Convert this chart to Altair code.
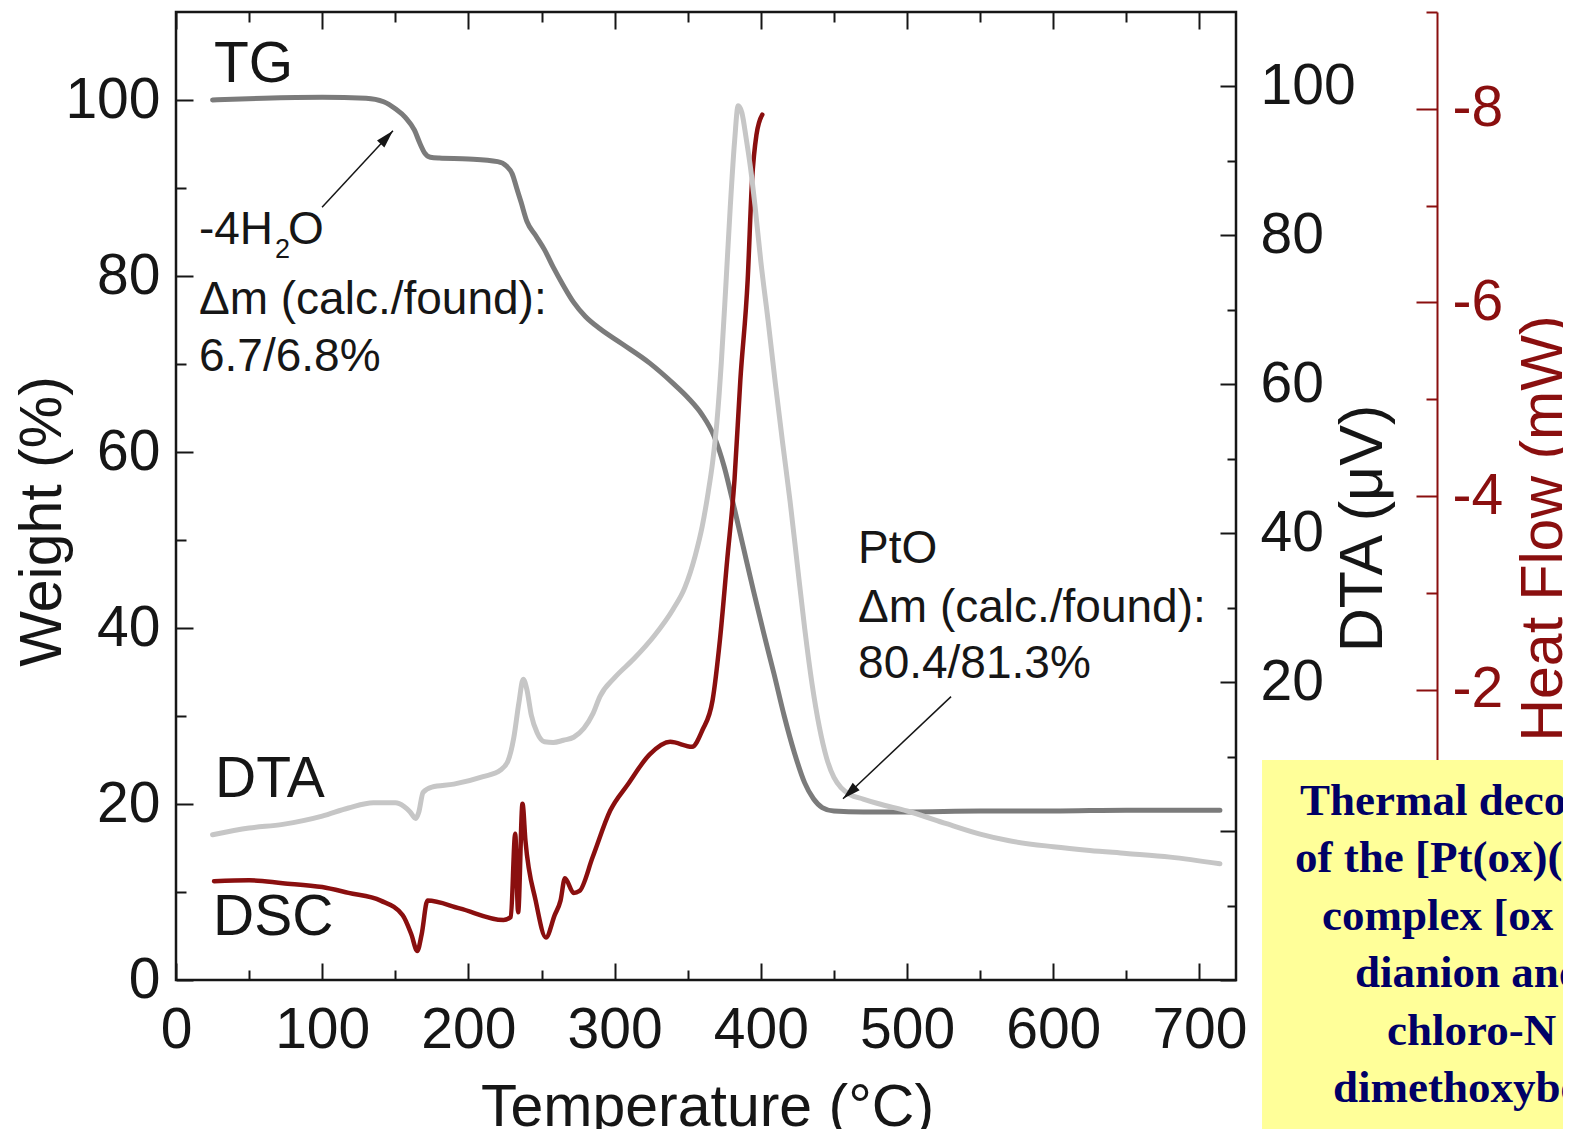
import altair as alt
import pandas as pd

# ---------------- data ----------------
# TG curve: temperature (°C) and weight (%)
tg_T = [25, 60, 100, 130, 142, 150, 157, 163, 167, 170, 174, 180, 200, 220, 226, 230, 233, 236, 240,
        246, 252, 258, 265, 272, 280, 290, 305, 324, 340, 350, 360, 368, 375, 382, 388, 395, 402,
        409, 416, 423, 430, 436, 442, 450, 470, 500, 550, 600, 650, 714]
tg_W = [100.0, 100.2, 100.3, 100.2, 99.8, 99.0, 98.0, 96.6, 95.0, 94.0, 93.5, 93.4, 93.3, 93.0, 92.5,
        91.6, 90.0, 88.4, 86.2, 84.6, 83.0, 81.0, 78.9, 77.0, 75.4, 74.0, 72.3, 70.1, 67.8, 66.2, 64.2,
        61.8, 58.3, 53.5, 49.2, 44.2, 39.4, 34.8, 30.0, 25.8, 22.4, 20.6, 19.6, 19.2, 19.1, 19.1, 19.2,
        19.2, 19.3, 19.3]

# DTA curve: temperature (°C) and signal (µV)
dta_T = [25, 50, 73, 100, 118, 135, 150, 156, 160, 164, 166, 169, 175, 190, 210, 222, 227, 231, 234.5,
         237.5, 240, 243, 247, 252, 258, 265, 272, 279, 285, 290, 300, 313, 327, 340, 348, 355, 360,
         364, 367, 370, 373, 376, 379, 382, 384.5, 387, 390, 393, 396, 400, 405, 410, 415, 420, 425,
         430, 435, 440, 445, 450, 455, 461, 470, 480, 500, 527, 550, 570, 600, 625, 650, 680, 714]
dta_D = [-0.5, 0.4, 0.9, 2.0, 3.1, 3.8, 3.8, 3.3, 2.6, 1.7, 2.5, 5.2, 5.9, 6.3, 7.3, 8.2, 9.4, 12.5,
         17.2, 20.4, 19.0, 15.6, 13.2, 12.0, 11.9, 12.2, 12.6, 13.8, 15.7, 18.1, 20.6, 23.1, 26.2, 29.8,
         32.7, 36.9, 41.0, 45.5, 49.5, 55.0, 63.0, 73.0, 83.5, 92.5, 97.4, 96.5, 93.0, 89.0, 84.0, 76.5,
         68.5, 60.0, 52.0, 44.3, 35.7, 27.2, 19.8, 14.0, 9.8, 7.2, 5.8, 4.9, 4.3, 3.7, 2.7, 1.0, -0.4,
         -1.3, -2.1, -2.6, -3.0, -3.5, -4.4]

# DSC curve: temperature (°C) and heat flow (mW)
dsc_T = [26, 50, 73, 100, 118, 140, 155, 161, 165, 168, 172, 194, 224, 229, 232, 234, 237, 239, 246,
         253, 259, 263, 266, 272, 276, 285, 297, 309, 324, 338, 353, 360, 367, 372, 377, 382, 386, 391,
         394, 397, 401]
dsc_H = [-0.02, -0.03, 0.0, 0.04, 0.10, 0.18, 0.33, 0.53, 0.70, 0.53, 0.18, 0.26, 0.38, 0.35, -0.51,
         0.30, -0.82, -0.44, 0.18, 0.56, 0.33, 0.18, -0.05, 0.10, 0.08, -0.27, -0.75, -1.02, -1.33,
         -1.46, -1.41, -1.58, -1.89, -2.51, -3.34, -4.17, -5.20, -6.23, -7.26, -7.73, -7.94]

# text labels placed in (temperature, weight) coordinates
lab_T = [26.0, 26.7, 25.3, 15.7, 67.7, 76.6, 15.7, 15.7, 466.5, 466.5, 466.5]
lab_W = [102.0, 20.8, 5.1, 83.6, 82.0, 83.6, 75.7, 69.2, 47.4, 40.7, 34.3]
lab_text = ["TG", "DTA", "DSC", "-4H", "2", "O", "Δm (calc./found):", "6.7/6.8%",
            "PtO", "Δm (calc./found):", "80.4/81.3%"]
lab_fs = [57, 57, 57, 46, 27, 46, 46, 46, 46, 46, 46]

# annotation arrows (tail -> head) in (temperature, weight) coordinates
arr_T1 = [99.9, 530.1]
arr_W1 = [87.8, 32.2]
arr_T2 = [148.4, 456.2]
arr_W2 = [96.5, 20.6]
arr_angle = [43, 227]

# caption box of the slide (partly outside the picture)
box_T = [742.8]
box_T2 = [1000]
box_W = [25.0]
box_W2 = [-30]
cap_T = [768.8, 765.4, 783.9, 806.4, 828.3, 791.4]
cap_W = [18.75, 12.27, 5.68, -0.8, -7.39, -13.86]
cap_text = ["Thermal decomposition", "of the [Pt(ox)(", "complex [ox =", "dianion and",
            "chloro-N", "dimethoxybenzyl"]

# ---------------- chart ----------------
FONT = "Liberation Sans"
INK = "#161616"
RED = "#8a0f0f"
XDOM = [0, 725]
WDOM = [0, 110]
DDOM = [-20, 110]
HDOM = [-9, 1]
PW, PH = 1060, 968
TFS = 59


def xs():
    return alt.Scale(domain=XDOM, nice=False, zero=False)


def cond(test, big, small):
    return {"condition": {"test": test, "value": big}, "value": small}


tg_df = pd.DataFrame({"T": tg_T, "W": tg_W})
dta_df = pd.DataFrame({"T": dta_T, "D": dta_D})
dsc_df = pd.DataFrame({"T": dsc_T, "H": dsc_H})
lab_df = pd.DataFrame({"T": lab_T, "W": lab_W, "txt": lab_text, "fs": lab_fs})
arr_df = pd.DataFrame({"T1": arr_T1, "W1": arr_W1, "T2": arr_T2, "W2": arr_W2, "ang": arr_angle})
box_df = pd.DataFrame({"T": box_T, "T2": box_T2, "W": box_W, "W2": box_W2})
cap_df = pd.DataFrame({"T": cap_T, "W": cap_W, "txt": cap_text})

tg = alt.Chart(tg_df).mark_line(color="#7b7b7b", strokeWidth=5, interpolate="monotone",
                                strokeCap="round").encode(
    x=alt.X("T:Q", scale=xs(),
            axis=alt.Axis(orient="bottom", values=list(range(0, 701, 100)), ticks=False, domain=False,
                          grid=False, labelFont=FONT, labelFontSize=57, labelColor=INK, labelPadding=22,
                          labelFlush=False, labelOverlap=False,
                          title="Temperature (°C)", titleFont=FONT, titleFontSize=TFS,
                          titleFontWeight="normal", titleColor=INK, titleX=531, titleY=145,
                          titleBaseline="alphabetic", titleAlign="center")),
    y=alt.Y("W:Q", scale=alt.Scale(domain=WDOM, nice=False, zero=False),
            axis=alt.Axis(orient="left", values=[0, 20, 40, 60, 80, 100], ticks=False, domain=False,
                          grid=False, labelFont=FONT, labelFontSize=57, labelColor=INK, labelPadding=16,
                          labelOverlap=False,
                          title="Weight (%)", titleFont=FONT, titleFontSize=TFS, titleFontWeight="normal",
                          titleColor=INK, titleAngle=270, titleX=-116, titleY=509,
                          titleBaseline="alphabetic", titleAlign="center")),
)

dsc = alt.Chart(dsc_df).mark_line(color=RED, strokeWidth=4.5, interpolate="monotone",
                                  strokeCap="round").encode(
    x=alt.X("T:Q", scale=xs(),
            axis=alt.Axis(orient="bottom", offset=-PH, values=list(range(0, 701, 50)), labels=False,
                          domain=False, grid=False, title=None, tickColor=INK, tickWidth=2,
                          tickSize=cond("datum.value % 100 === 0", 17, 10))),
    y=alt.Y("H:Q", scale=alt.Scale(domain=HDOM, reverse=True, nice=False, zero=False),
            axis=alt.Axis(orient="left", offset=-1261, values=list(range(-9, 2)), grid=False,
                          domain=True, domainColor=RED, domainWidth=2, tickColor=RED, tickWidth=2,
                          tickSize=cond("datum.value % 2 === 0", 21, 11),
                          labelExpr="datum.value % 2 === 0 ? '' + datum.value : ''",
                          labelAlign="left", labelPadding=-36, labelFont=FONT, labelFontSize=57,
                          labelColor=RED, labelOverlap=False,
                          title="Heat Flow (mW)", titleFont=FONT, titleFontSize=TFS,
                          titleFontWeight="normal", titleColor=RED, titleAngle=270, titleX=124,
                          titleY=516, titleBaseline="alphabetic", titleAlign="center")),
)

dta = alt.Chart(dta_df).mark_line(color="#c6c6c6", strokeWidth=5, interpolate="monotone",
                                  strokeCap="round").encode(
    x=alt.X("T:Q", scale=xs(),
            axis=alt.Axis(orient="top", offset=-PH, values=list(range(0, 701, 50)), labels=False,
                          domain=False, grid=False, title=None, tickColor=INK, tickWidth=2,
                          tickSize=cond("datum.value % 100 === 0", 17, 10))),
    y=alt.Y("D:Q", scale=alt.Scale(domain=DDOM, nice=False, zero=False),
            axis=alt.Axis(orient="right", values=list(range(-20, 101, 20)), ticks=False, domain=False,
                          grid=False, labelExpr="'' + datum.value", labelFont=FONT, labelFontSize=57,
                          labelColor=INK, labelPadding=24, labelOverlap=False,
                          title="DTA (μV)", titleFont=FONT, titleFontSize=61, titleFontWeight="normal",
                          titleColor=INK, titleAngle=270, titleX=145, titleY=516,
                          titleBaseline="alphabetic", titleAlign="center")),
)

labels = alt.Chart(lab_df).mark_text(font=FONT, align="left", baseline="alphabetic",
                                     color=INK).encode(
    x=alt.X("T:Q", scale=xs(), axis=None),
    y=alt.Y("W:Q", scale=alt.Scale(domain=WDOM, nice=False, zero=False),
            axis=alt.Axis(orient="right", offset=-PW, values=list(range(0, 101, 10)), labels=False,
                          domain=False, grid=False, title=None, tickColor=INK, tickWidth=2,
                          tickSize=cond("datum.value % 20 === 0", 17, 10))),
    text="txt:N",
    size=alt.Size("fs:Q", scale=None),
)

dta_ticks = alt.Chart(dta_df).mark_line(opacity=0).encode(
    x=alt.X("T:Q", scale=xs(), axis=None),
    y=alt.Y("D:Q", scale=alt.Scale(domain=DDOM, nice=False, zero=False),
            axis=alt.Axis(orient="left", offset=-PW, values=list(range(-20, 101, 10)), labels=False,
                          domain=False, grid=False, title=None, tickColor=INK, tickWidth=2,
                          tickSize=cond("datum.value % 20 === 0", 16, 9))),
)

arrows = alt.Chart(arr_df).mark_rule(color=INK, strokeWidth=1.5).encode(
    x=alt.X("T1:Q", scale=xs(), axis=None),
    x2="T2:Q",
    y=alt.Y("W1:Q", scale=alt.Scale(domain=WDOM, nice=False, zero=False), axis=None),
    y2="W2:Q",
)

heads = alt.Chart(arr_df).mark_point(shape="M0,0L0.28,1L-0.28,1Z", filled=True, color=INK,
                                     opacity=1, size=1296, strokeWidth=0).encode(
    x=alt.X("T2:Q", scale=xs(), axis=None),
    y=alt.Y("W2:Q", scale=alt.Scale(domain=WDOM, nice=False, zero=False), axis=None),
    angle=alt.Angle("ang:Q", scale=None),
)

box = alt.Chart(box_df).mark_rect(color="#ffff99").encode(
    x=alt.X("T:Q", scale=xs(), axis=None),
    x2="T2:Q",
    y=alt.Y("W:Q", scale=alt.Scale(domain=WDOM, nice=False, zero=False), axis=None),
    y2="W2:Q",
)

caption = alt.Chart(cap_df).mark_text(font="Liberation Serif", fontWeight="bold", fontSize=45,
                                      align="left", baseline="alphabetic", color="#000066").encode(
    x=alt.X("T:Q", scale=xs(), axis=None),
    y=alt.Y("W:Q", scale=alt.Scale(domain=WDOM, nice=False, zero=False), axis=None),
    text="txt:N",
)

chart = alt.layer(tg, dsc, dta, labels, dta_ticks, arrows, heads, box, caption).resolve_scale(
    x="independent", y="independent"
).properties(
    width=PW, height=PH,
    autosize=alt.AutoSizeParams(type="none"),
    padding={"left": 168, "top": 4, "right": 327, "bottom": 149},
).configure_view(stroke=INK, strokeWidth=2.5)

chart.save("out.html", embed_options={"renderer": "svg", "actions": False})
